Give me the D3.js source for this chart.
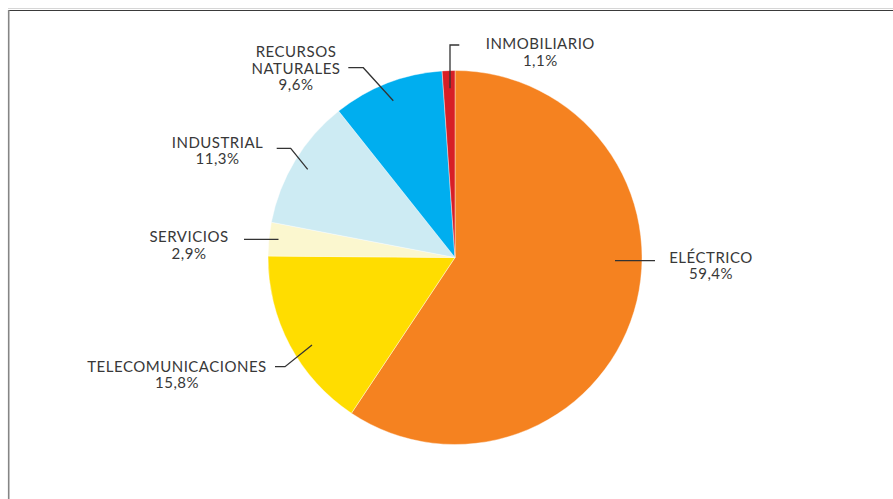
<!DOCTYPE html>
<html>
<head>
<meta charset="utf-8">
<script src="https://cdn.jsdelivr.net/npm/d3@7"></script>
<style>
  html, body { margin: 0; padding: 0; background: #fff; }
  svg { display: block; }
  .lbl { font-family: Lato, "Open Sans", sans-serif; font-size: 15px; letter-spacing: 0.5px; fill: #383838; }
</style>
</head>
<body>
<svg id="chart" width="893" height="499"></svg>
<script>
// Sector shares, clockwise from 12 o'clock
const sectors = ["ELÉCTRICO", "TELECOMUNICACIONES", "SERVICIOS", "INDUSTRIAL", "RECURSOS NATURALES", "INMOBILIARIO"];
const shares = [59.4, 15.8, 2.9, 11.3, 9.6, 1.1];
const shareLabels = ["59,4%", "15,8%", "2,9%", "11,3%", "9,6%", "1,1%"];
const labelLines = [["ELÉCTRICO"], ["TELECOMUNICACIONES"], ["SERVICIOS"], ["INDUSTRIAL"], ["RECURSOS", "NATURALES"], ["INMOBILIARIO"]];
const colors = ["#F58220", "#FFDD00", "#FBF7CF", "#CDEBF3", "#00AEEF", "#D71F26"];

// Callout layout, offsets from the pie centre: text anchor and leader polyline
const callouts = [
  { tx: 256, ty: 5.5,   leader: [[160, 3.2], [200, 3.2]] },
  { tx: -278, ty: 114.5, leader: [[-143, 87.5], [-170, 109.2], [-180, 109.2]] },
  { tx: -266, ty: -15.2, leader: [[-176.5, -18.2], [-211, -18.2]] },
  { tx: -237.5, ty: -109.8, leader: [[-147.3, -88.2], [-164.3, -109.2], [-178.3, -109.2]] },
  { tx: -159, ty: -200.2, leader: [[-61.7, -156.8], [-91.7, -189.8], [-106.7, -189.8]] },
  { tx: 85.3, ty: -208.2, leader: [[-5, -169.2], [-5, -212.5], [4.3, -212.5]] }
];

const W = 893, H = 499;
const cx = 455, cy = 257.5, R = 187;
const lineGap = 16.3;

const svg = d3.select("#chart");

// Frame: light rule, dark top rule, grey left rule
svg.append("line").attr("x1", 8).attr("x2", W).attr("y1", 8.5).attr("y2", 8.5)
  .attr("stroke", "#d6d6d6").attr("stroke-width", 1);
svg.append("line").attr("x1", 8).attr("x2", W).attr("y1", 10.5).attr("y2", 10.5)
  .attr("stroke", "#3a3a3a").attr("stroke-width", 1.2);
svg.append("line").attr("x1", 8.7).attr("x2", 8.7).attr("y1", 10).attr("y2", H)
  .attr("stroke", "#858585").attr("stroke-width", 1.6);

const data = sectors.map((s, i) => ({ name: s, value: shares[i], pct: shareLabels[i], lines: labelLines[i], color: colors[i], call: callouts[i] }));

const pie = d3.pie().value(d => d.value).sort(null).startAngle(0).endAngle(2 * Math.PI);
const arc = d3.arc().innerRadius(0).outerRadius(R);

const g = svg.append("g").attr("transform", `translate(${cx},${cy})`);

g.selectAll("path.slice")
  .data(pie(data))
  .join("path")
  .attr("class", "slice")
  .attr("d", arc)
  .attr("fill", d => d.data.color)
  .attr("stroke", "#fff")
  .attr("stroke-width", 0.4);

// Leader lines
const line = d3.line();
g.selectAll("path.leader")
  .data(data)
  .join("path")
  .attr("class", "leader")
  .attr("d", d => line(d.call.leader))
  .attr("fill", "none")
  .attr("stroke", "#333")
  .attr("stroke-width", 1.3);

// Labels: name lines followed by the share
const labels = g.selectAll("text.lbl")
  .data(data)
  .join("text")
  .attr("class", "lbl")
  .attr("text-anchor", "middle")
  .attr("x", d => d.call.tx)
  .attr("y", d => d.call.ty);

labels.each(function(d) {
  const t = d3.select(this);
  const rows = d.lines.concat([d.pct]);
  rows.forEach((r, i) => {
    t.append("tspan").attr("x", d.call.tx).attr("dy", i === 0 ? 0 : lineGap).text(r);
  });
});
</script>
</body>
</html>
